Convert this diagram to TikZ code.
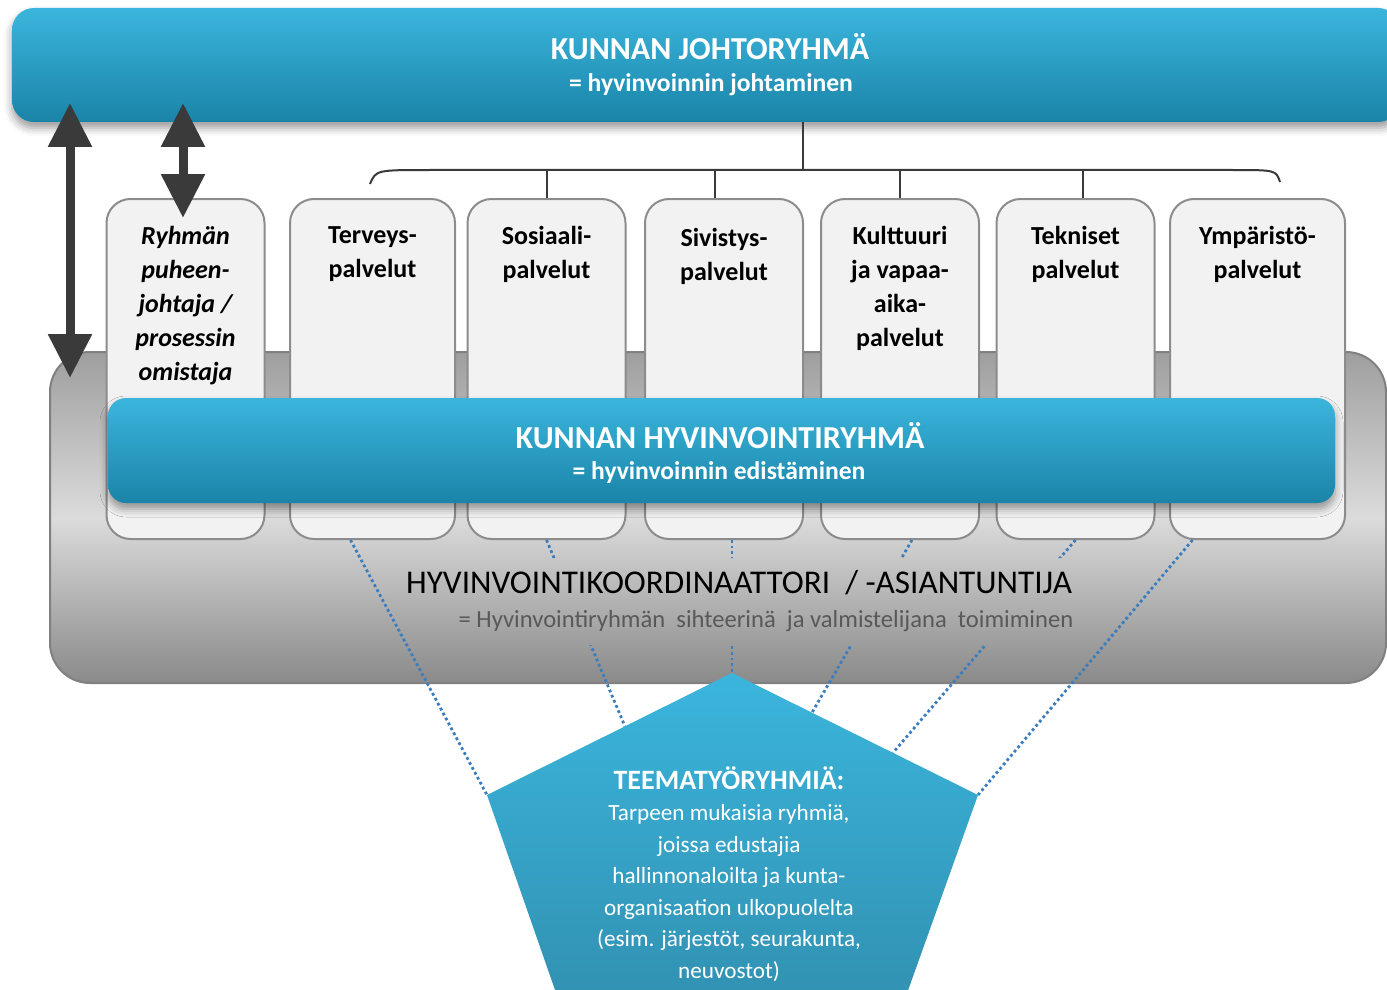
\documentclass[tikz,border=0pt]{standalone}
\usepackage{fontspec}
\setmainfont{Carlito}
\usetikzlibrary{positioning,calc,arrows.meta,shadows.blur}
\definecolor{barlight}{HTML}{3BB5DD}
\definecolor{bardark}{HTML}{1A84A8}
\definecolor{colfill}{HTML}{F2F2F2}
\definecolor{coledge}{HTML}{8C8C8C}
\definecolor{arrowgray}{HTML}{3A3A3A}
\definecolor{dotblue}{HTML}{3C7DBE}

\begin{document}
\begin{tikzpicture}[x=0.5pt, y=-0.5pt]
\tikzstyle{BarStyle}=[rounded corners=11pt,
                      top color=barlight, bottom color=bardark,
                      blur shadow={shadow xshift=0pt, shadow yshift=-3pt, shadow blur radius=4pt}]
\tikzstyle{GrayStyle}=[rounded corners=20pt, draw=black!50, line width=1pt,
                       top color=black!38, bottom color=black!46, middle color=black!14]
\tikzstyle{ColStyle}=[rounded corners=12pt, fill=colfill, draw=coledge, line width=1pt,
                      minimum width=79pt, minimum height=170pt, anchor=north]
\tikzstyle{ColText}=[anchor=north, align=center, inner sep=0pt,
                     font=\fontsize{13}{17}\selectfont\bfseries]
\tikzstyle{TitleText}=[text=white, inner sep=0pt, font=\fontsize{16}{19}\selectfont\bfseries]
\tikzstyle{SubText}=[text=white, inner sep=0pt, font=\fontsize{12.8}{15}\selectfont\bfseries]
\tikzstyle{BraceLine}=[draw=arrowgray, line width=1pt]
\tikzstyle{BigArrow}=[arrowgray, line width=4.5pt,
                      {Triangle[width=21pt,length=22pt]}-{Triangle[width=21pt,length=22pt]}]
\tikzstyle{DotLine}=[dotblue, line width=1.4pt, dash pattern=on 1.4pt off 1.4pt]

\useasboundingbox (0,0) rectangle (1387,990);
\clip (0,0) rectangle (1387,990);

% grey base for the coordinator
\node[GrayStyle, minimum width=668pt, minimum height=165.5pt] (koord) at (718,517.5) {};

% top group
\node[BarStyle, minimum width=694pt, minimum height=57pt] (johto) at (706,65) {};
\node[TitleText] (johtotitle) at (710,47) {KUNNAN JOHTORYHMÄ};
\node[SubText] (johtosub) at (711,85) {= hyvinvoinnin johtaminen};

% columns
\node[ColStyle] (col1) at (185.5,198) {};
\node[ColStyle, minimum width=82.5pt] (col2) at (372.5,198) {};
\node[ColStyle] (col3) at (546.5,198) {};
\node[ColStyle] (col4) at (724,198) {};
\node[ColStyle] (col5) at (900,198) {};
\node[ColStyle] (col6) at (1075.5,198) {};
\node[ColStyle, minimum width=87.5pt] (col7) at (1257.5,198) {};

\node[ColText, font=\fontsize{13}{17}\selectfont\bfseries\itshape] (t1) [below=14pt of col1.north]
  {Ryhmän\\puheen-\\johtaja /\\prosessin\\omistaja};
\node[ColText] (t2) [below=14pt of col2.north] {Terveys-\\palvelut};
\node[ColText] (t3) [below=14pt of col3.north] {Sosiaali-\\palvelut};
\node[ColText] (t4) [below=15pt of col4.north] {Sivistys-\\palvelut};
\node[ColText] (t5) [below=14pt of col5.north] {Kulttuuri\\ja vapaa-\\aika-\\palvelut};
\node[ColText] (t6) [below=14pt of col6.north] {Tekniset\\palvelut};
\node[ColText] (t7) [below=14pt of col7.north] {Ympäristö-\\palvelut};

% brace under the top group
\coordinate (bmid) at (803,170);
\coordinate (bl) at (370,184);
\coordinate (br) at (1280,182);
\draw[BraceLine] (johto.south -| bmid) -- (bmid);
\draw[BraceLine] (bl) .. controls (376,170) .. (430,170) -- (1232,170) .. controls (1276,170) .. (br);
\draw[BraceLine] (bmid -| col3.north) -- (col3.north);
\draw[BraceLine] (715,170) -- (715,198);
\draw[BraceLine] (bmid -| col5.north) -- (col5.north);
\draw[BraceLine] (1083,170) -- (1083,198);

% middle group
\node[BarStyle, rounded corners=9pt, minimum width=613.5pt, minimum height=52.5pt] (hyvin) at (721.5,450.5) {};
\node[TitleText] (hyvintitle) at (720,436) {KUNNAN HYVINVOINTIRYHMÄ};
\node[SubText] (hyvinsub) at (719,473) {= hyvinvoinnin edistäminen};

% arrows to the top group
\coordinate (a1top) at (70,103);
\coordinate (a1bot) at (70,378);
\coordinate (a2top) at (183,103);
\draw[BigArrow] (a1top) -- (a1bot);
\draw[BigArrow] (a2top) -- ($(col1.north)+(-2.5,20)$);

% theme groups
\coordinate (pt) at (732,673);
\coordinate (pl) at (487,795);
\coordinate (pr) at (978,795);
\coordinate (pbl) at (562,1010);
\coordinate (pbr) at (901,1010);

\draw[DotLine] ($(col2.south)+(-22,0)$) -- (pl);
\begin{scope}[even odd rule]
  % the dots stop under the coordinator text
  \clip (0,0) rectangle (1387,990) (415,558) rectangle (1082,645);
  \draw[DotLine] (col3.south) -- ($(pt)!0.437!(pl)$);
  \draw[DotLine] (col4.south -| pt) -- (pt);
  \draw[DotLine] ($(col5.south)+(12,0)$) -- ($(pt)!0.325!(pr)$);
  \draw[DotLine] (col6.south) -- ($(pt)!0.654!(pr)$);
\end{scope}
\draw[DotLine] ($(col7.south)+(-65,0)$) -- (pr);

\path[top color=barlight, bottom color=bardark!90] (pt) -- (pr) -- (pbr) -- (pbl) -- (pl) -- cycle;

\node[text=black, inner sep=0pt, font=\fontsize{16.6}{19}\selectfont] (koordtitle) at (739,583)
  {HYVINVOINTIKOORDINAATTORI \ / -ASIANTUNTIJA};
\node[text=black!65, inner sep=0pt, font=\fontsize{12.3}{14}\selectfont] (koordsub) at (766,621)
  {= Hyvinvointiryhmän \ sihteerinä \ ja valmistelijana \ toimiminen};

\node[text=white, inner sep=0pt, font=\fontsize{14}{16}\selectfont\bfseries] (teematitle) at (729,778)
  {TEEMATYÖRYHMIÄ:};
\node[text=white, inner sep=0pt, align=center, anchor=north, font=\fontsize{11.6}{15.8}\selectfont]
  (teematext) [below=7pt of teematitle]
  {Tarpeen mukaisia ryhmiä,\\joissa edustajia\\hallinnonaloilta ja kunta-\\organisaation ulkopuolelta\\(esim. järjestöt, seurakunta,\\neuvostot)};
\end{tikzpicture}
\end{document}
